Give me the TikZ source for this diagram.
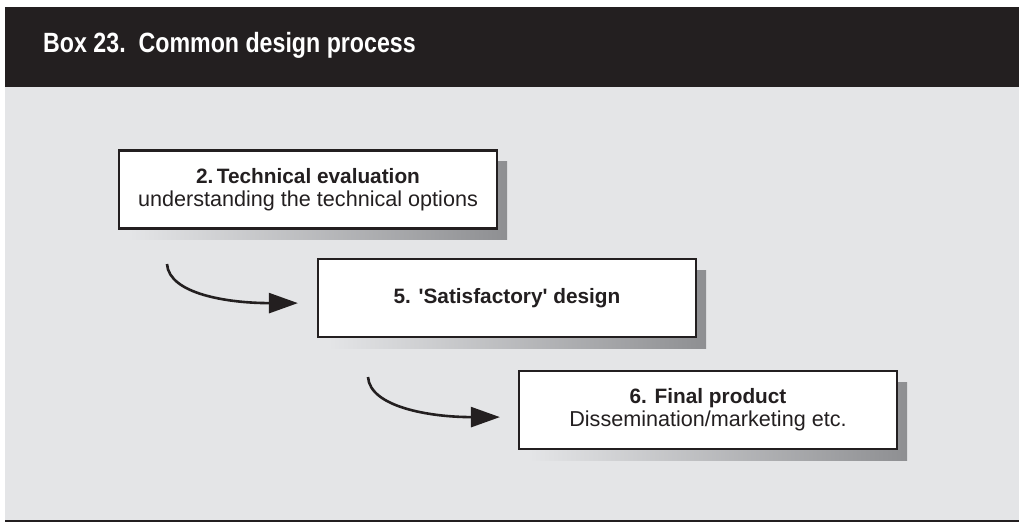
\documentclass[tikz,border=0pt]{standalone}
\usepackage{fontspec}
\setmainfont{Liberation Sans}
\usetikzlibrary{positioning, shadows, arrows.meta}
\definecolor{boxdark}{HTML}{231F20}
\definecolor{panelgray}{HTML}{E4E5E7}
\definecolor{shadowgray}{HTML}{8E8F92}

\tikzset{
    stage/.style={draw=boxdark, line width=2.2pt, fill=white, text=boxdark,
        minimum width=378pt, minimum height=78pt, align=center,
        font=\fontsize{21.6}{23}\selectfont,
        general shadow={shading=axis, left color=panelgray, right color=shadowgray,
            shadow xshift=10pt, shadow yshift=-11pt}},
    flow/.style={draw=boxdark, line width=2.6pt, -{Triangle[length=29pt, width=20pt]}},
}

\begin{document}
\begin{tikzpicture}[x=1pt, y=-1pt]
            \useasboundingbox (0,0) rectangle (1019,522);
            \fill[panelgray] (5,87) rectangle (1019,520);
            \fill[boxdark] (5,7) rectangle (1019,87);
            \fill[boxdark] (5,520) rectangle (1019,522);
            \node[anchor=base west, inner sep=0pt, text=white, font=\bfseries\fontsize{23.2}{26}\selectfont] (title) at (43,52)
                {\scalebox{1}[1.2]{Box 23.\ \ Common design process}};

            \node[stage] (tech) at (308,189.5) {\textbf{\fontsize{20.8}{23}\selectfont 2.\,Technical evaluation}\\understanding the technical options};
            \node[stage, below=28.4pt of tech, xshift=199pt] (design) {\textbf{\fontsize{20.8}{23}\selectfont 5. \textquotesingle Satisfactory\textquotesingle\ design}};
            \node[stage, below=31.8pt of design, xshift=201pt] (product) {\textbf{\fontsize{20.8}{23}\selectfont 6. Final product}\\Dissemination/marketing etc.};

            \coordinate (from tech) at (167,264);
            \coordinate (from design) at (368,377);
            \draw[flow] (from tech) .. controls +(2,30) and +(-70,0) .. ([xshift=-19pt, yshift=-5pt]design.west);
            \draw[flow] (from design) .. controls +(2,30) and +(-70,0) .. ([xshift=-18pt, yshift=-7pt]product.west);
        \end{tikzpicture}
\end{document}
